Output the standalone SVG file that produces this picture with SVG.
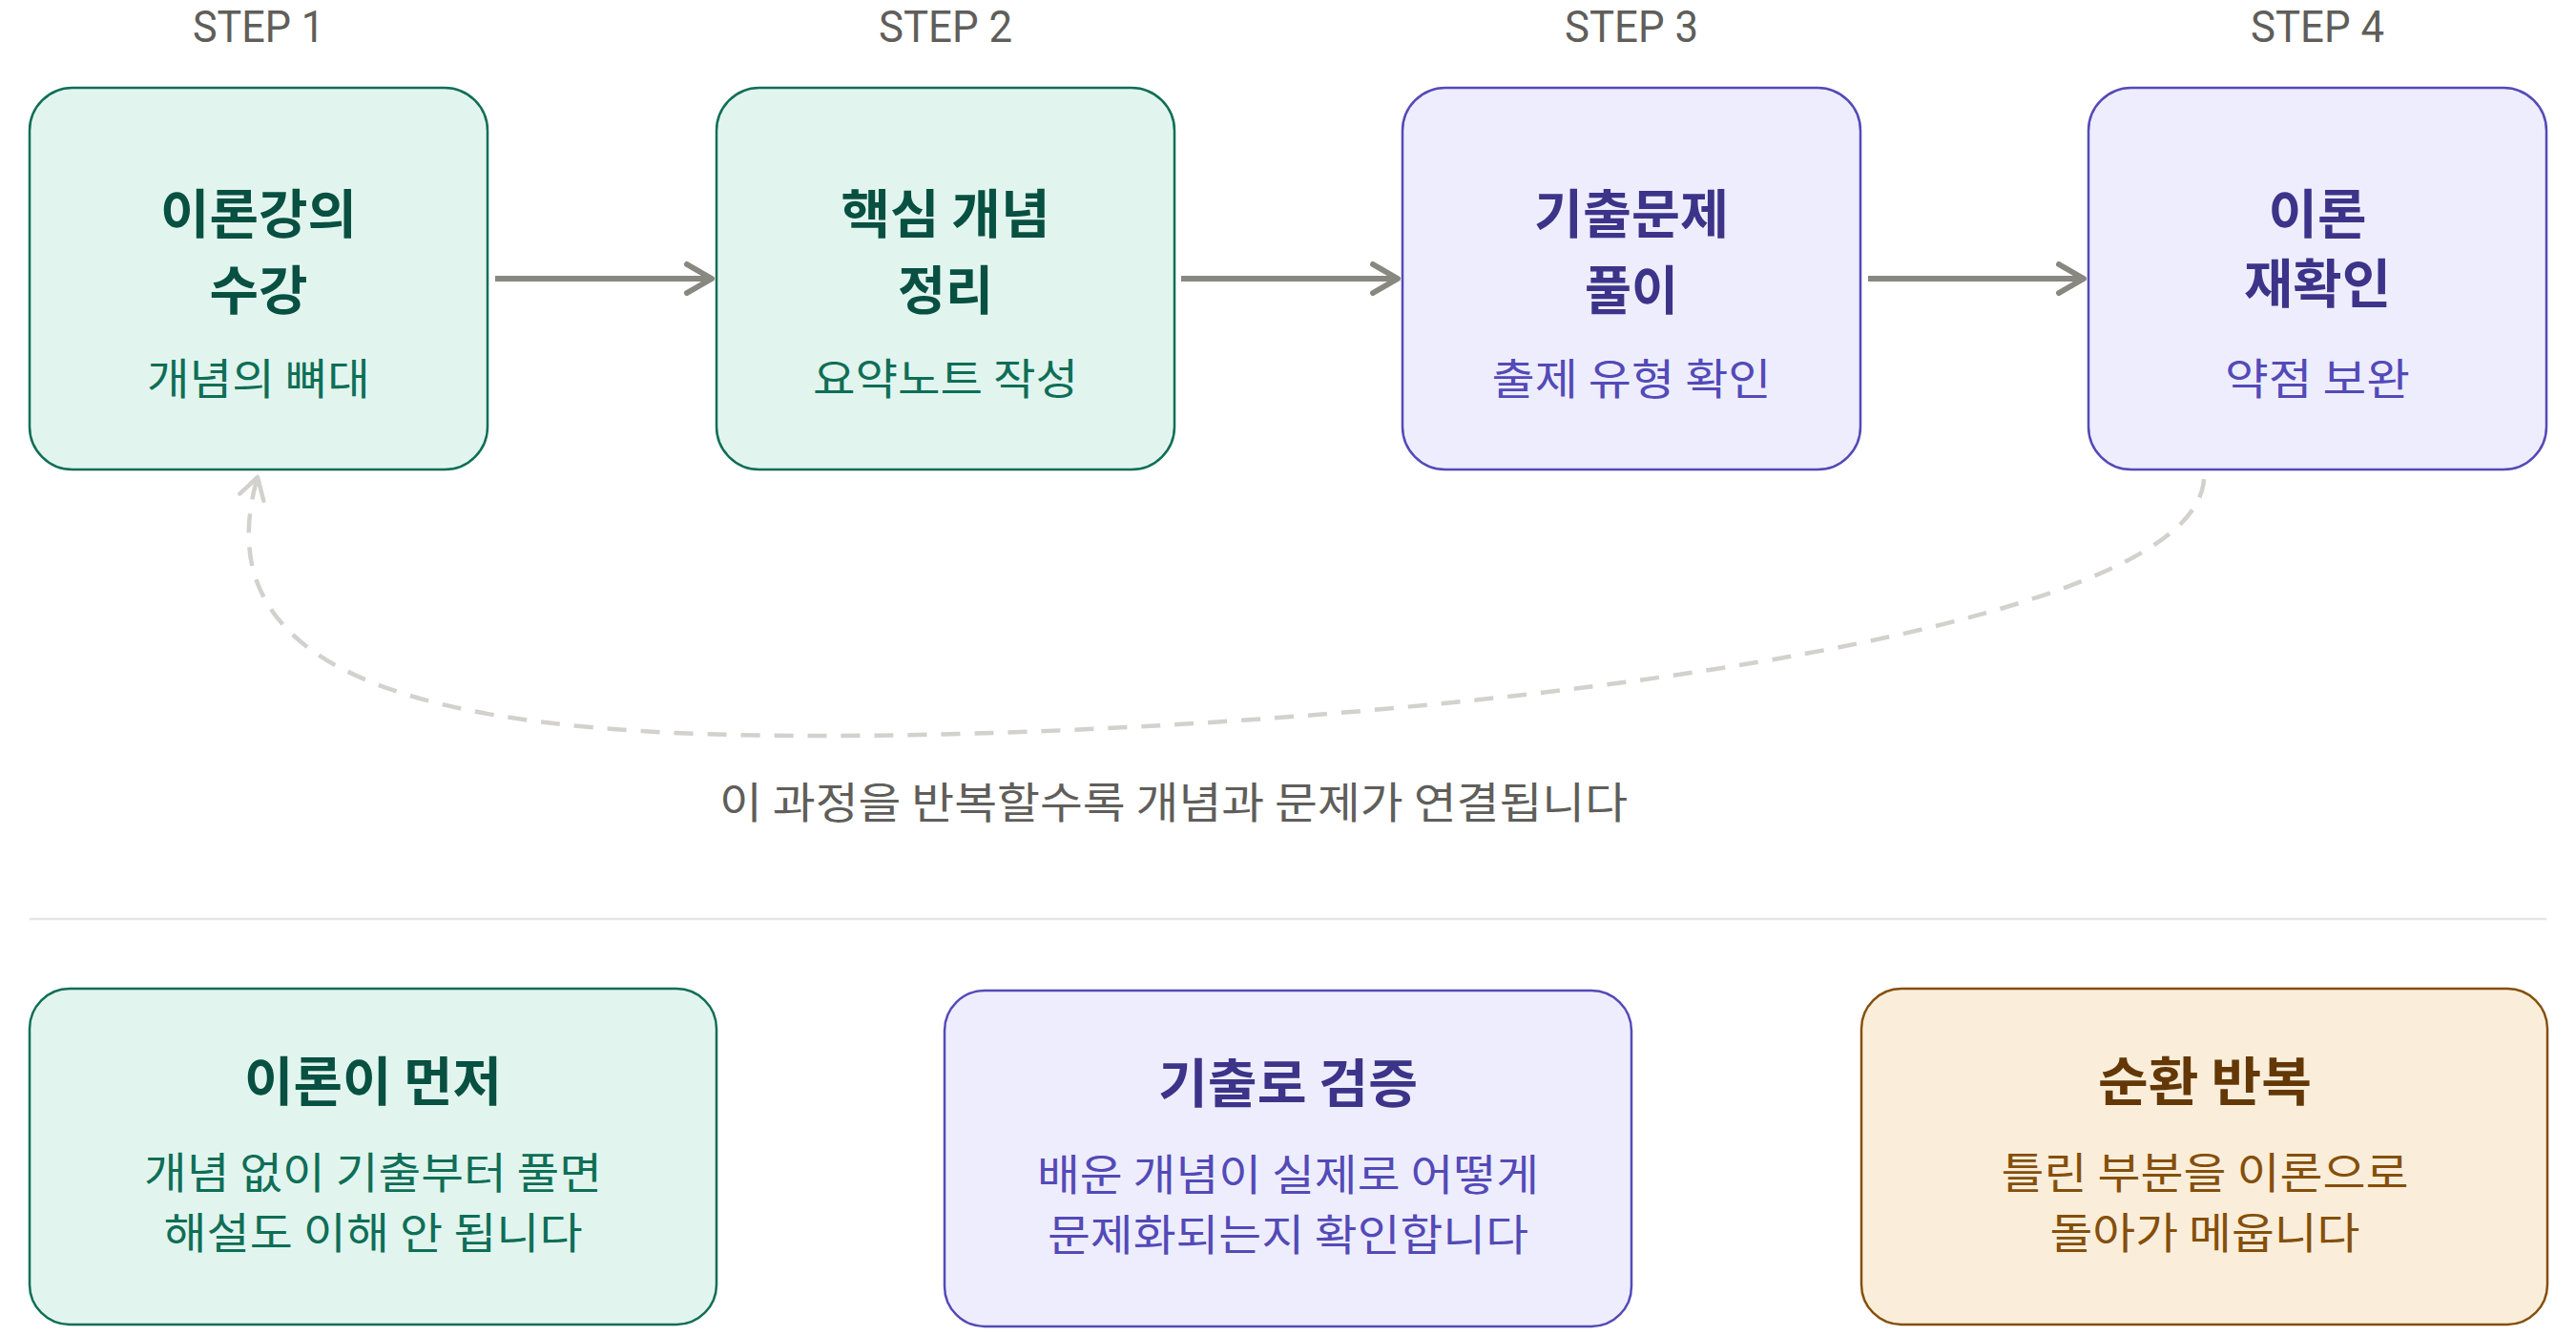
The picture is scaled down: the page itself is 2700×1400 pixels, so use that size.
<svg xmlns="http://www.w3.org/2000/svg" width="2700" height="1400" viewBox="0 0 2700 1400">
<style>
text{font-family:"Noto Sans CJK KR","Noto Sans",sans-serif;text-anchor:middle}
.step{font-family:Roboto,"Noto Sans",sans-serif;font-size:47px;fill:#5F5E5A}
.t{font-size:55px;font-weight:700}
.s{font-size:45px}
.cap{font-size:45px;fill:#5F5E5A}
.g rect{fill:#E1F5EE;stroke:#0F6E56;stroke-width:2.5}
.g .t{fill:#085041}.g .s{fill:#0F6E56}
.p rect{fill:#EEEDFE;stroke:#534AB7;stroke-width:2.5}
.p .t{fill:#3C3489}.p .s{fill:#534AB7}
.a rect{fill:#FAEEDA;stroke:#854F0B;stroke-width:2.5}
.a .t{fill:#633806}.a .s{fill:#854F0B}
.flow{stroke:#888780;stroke-width:6;fill:none}
.loop{stroke:#D3D1CC;stroke-width:4.5;fill:none;stroke-dasharray:20 15}
</style>
<defs>
<marker id="ah" viewBox="0 0 34 38" refX="30" refY="19" markerWidth="34" markerHeight="38" markerUnits="userSpaceOnUse" orient="auto">
<path d="M4,4 L30,19 L4,34" fill="none" stroke="#888780" stroke-width="6" stroke-linecap="round" stroke-linejoin="round"/>
</marker>
<marker id="ahl" viewBox="0 0 30 34" refX="26" refY="17" markerWidth="30" markerHeight="34" markerUnits="userSpaceOnUse" orient="auto">
<path d="M4,4 L26,17 L4,30" fill="none" stroke="#D3D1CC" stroke-width="4.5" stroke-linecap="round" stroke-linejoin="round"/>
</marker>
</defs>
<rect width="2700" height="1400" fill="#fff"/>

<g id="labels">
<text class="step" x="271" y="44" textLength="138" lengthAdjust="spacingAndGlyphs">STEP 1</text>
<text class="step" x="991" y="44" textLength="140" lengthAdjust="spacingAndGlyphs">STEP 2</text>
<text class="step" x="1710" y="44" textLength="140" lengthAdjust="spacingAndGlyphs">STEP 3</text>
<text class="step" x="2429" y="44" textLength="140" lengthAdjust="spacingAndGlyphs">STEP 4</text>
</g>

<g id="step1" class="g">
<rect x="31" y="92" width="480" height="400" rx="45"/>
<text class="t" x="271" y="244" textLength="206" lengthAdjust="spacingAndGlyphs">이론강의</text>
<text class="t" x="271" y="324" textLength="103" lengthAdjust="spacingAndGlyphs">수강</text>
<text class="s" x="271" y="414" textLength="234" lengthAdjust="spacingAndGlyphs">개념의 뼈대</text>
</g>
<g id="step2" class="g">
<rect x="751" y="92" width="480" height="400" rx="45"/>
<text class="t" x="991" y="244" textLength="219" lengthAdjust="spacingAndGlyphs">핵심 개념</text>
<text class="t" x="991" y="324" textLength="100" lengthAdjust="spacingAndGlyphs">정리</text>
<text class="s" x="991" y="414" textLength="278" lengthAdjust="spacingAndGlyphs">요약노트 작성</text>
</g>
<g id="step3" class="p">
<rect x="1470" y="92" width="480" height="400" rx="45"/>
<text class="t" x="1710" y="244" textLength="204" lengthAdjust="spacingAndGlyphs">기출문제</text>
<text class="t" x="1710" y="324" textLength="98" lengthAdjust="spacingAndGlyphs">풀이</text>
<text class="s" x="1710" y="414" textLength="293" lengthAdjust="spacingAndGlyphs">출제 유형 확인</text>
</g>
<g id="step4" class="p">
<rect x="2189" y="92" width="480" height="400" rx="45"/>
<text class="t" x="2429" y="244" textLength="103" lengthAdjust="spacingAndGlyphs">이론</text>
<text class="t" x="2429" y="317" textLength="154" lengthAdjust="spacingAndGlyphs">재확인</text>
<text class="s" x="2429" y="414" textLength="194" lengthAdjust="spacingAndGlyphs">약점 보완</text>
</g>

<g id="connectors">
<line class="flow" x1="519" y1="292" x2="746" y2="292" marker-end="url(#ah)"/>
<line class="flow" x1="1238" y1="292" x2="1465" y2="292" marker-end="url(#ah)"/>
<line class="flow" x1="1958" y1="292" x2="2184" y2="292" marker-end="url(#ah)"/>
<path class="loop" d="M2310,502 C2300,680 1400,771 860,771 C540,771 200,740 270,500" marker-end="url(#ahl)"/>
</g>

<text class="cap" x="1230" y="858" textLength="952" lengthAdjust="spacingAndGlyphs">이 과정을 반복할수록 개념과 문제가 연결됩니다</text>

<line x1="31" y1="963" x2="2669" y2="963" stroke="#E6E5E1" stroke-width="2.5"/>

<g id="note1" class="g">
<rect x="31" y="1036" width="720" height="352" rx="42"/>
<text class="t" x="391" y="1153" textLength="270" lengthAdjust="spacingAndGlyphs">이론이 먼저</text>
<text class="s" x="391" y="1246" textLength="480" lengthAdjust="spacingAndGlyphs">개념 없이 기출부터 풀면</text>
<text class="s" x="391" y="1309" textLength="439" lengthAdjust="spacingAndGlyphs">해설도 이해 안 됩니다</text>
</g>
<g id="note2" class="p">
<rect x="990" y="1038" width="720" height="352" rx="42"/>
<text class="t" x="1350" y="1155" textLength="272" lengthAdjust="spacingAndGlyphs">기출로 검증</text>
<text class="s" x="1350" y="1248" textLength="526" lengthAdjust="spacingAndGlyphs">배운 개념이 실제로 어떻게</text>
<text class="s" x="1350" y="1311" textLength="504" lengthAdjust="spacingAndGlyphs">문제화되는지 확인합니다</text>
</g>
<g id="note3" class="a">
<rect x="1951" y="1036" width="719" height="352" rx="42"/>
<text class="t" x="2311" y="1153" textLength="224" lengthAdjust="spacingAndGlyphs">순환 반복</text>
<text class="s" x="2311" y="1246" textLength="427" lengthAdjust="spacingAndGlyphs">틀린 부분을 이론으로</text>
<text class="s" x="2311" y="1309" textLength="325" lengthAdjust="spacingAndGlyphs">돌아가 메웁니다</text>
</g>
</svg>
